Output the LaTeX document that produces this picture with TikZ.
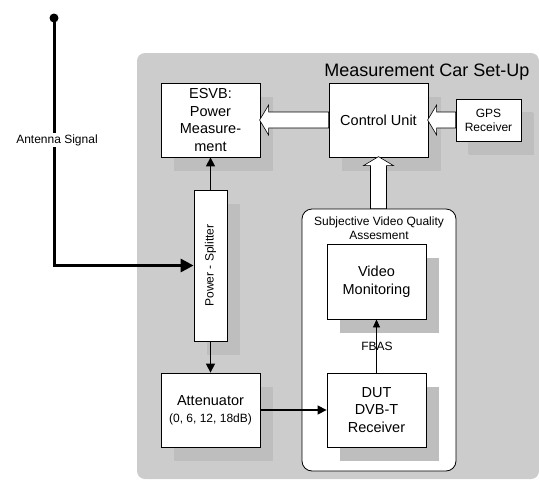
\documentclass[tikz,border=0pt]{standalone}
\usepackage{fontspec}
\setmainfont{Liberation Sans}
\usepackage{xcolor}
\usetikzlibrary{arrows.meta,shadows}

\tikzset{fatarrow/.pic={\draw[hollow] (0,8) -- (#1-9,8) -- (#1-9,15) -- (#1,0) -- (#1-9,-15) -- (#1-9,-8) -- (0,-8) -- cycle;}}

\begin{document}
\begin{tikzpicture}[x=1pt,y=-1pt,
  box/.style={draw,fill=white,line width=0.8pt,align=center,inner sep=0pt,
    font=\fontsize{14.5}{17.5}\selectfont,
    drop shadow={shadow xshift=13pt,shadow yshift=-14pt,fill=shade,opacity=1}},
  hollow/.style={draw,fill=white,line width=0.6pt},
  sig/.style={line width=1.4pt,-{Triangle[length=9pt,width=9pt]}},
  small/.style={font=\fontsize{12}{14}\selectfont}]
\definecolor{carbg}{HTML}{CCCCCC}
\definecolor{shade}{HTML}{BEBEBE}
\useasboundingbox (0,0) rectangle (539,480);
% measurement car
\fill[carbg,rounded corners=8pt] (137,53) rectangle (539,479);
\node[font=\fontsize{18}{20}\selectfont,anchor=base east] (title) at (533,76) {Measurement Car Set-Up};
\node[draw,fill=white,rounded corners=10pt,line width=0.8pt,minimum width=154pt,minimum height=262pt] (subj) at (379,340) {};
\node[small,align=center] (subjtitle) at (379,228) {Subjective Video Quality\\Assesment};
% boxes
\node[box,minimum width=99pt,minimum height=74pt] (esvb) at (210.5,120) {ESVB:\\Power\\Measure-\\ment};
\node[box,minimum width=99pt,minimum height=74pt] (ctrl) at (378.5,120) {Control Unit};
\node[box,minimum width=65pt,minimum height=42pt,font=\fontsize{12}{14}\selectfont,
  drop shadow={shadow xshift=12pt,shadow yshift=-13pt,fill=shade,opacity=1}] (gps) at (488.5,120) {GPS\\Receiver};
\node[box,minimum width=33pt,minimum height=151pt] (split) at (210.5,265.5) {};
\node[small,rotate=90] (splittext) at (split) {Power - Splitter};
\node[box,minimum width=99pt,minimum height=74pt] (atten) at (210.5,410) {Attenuator\\{\fontsize{12}{14}\selectfont (0, 6, 12, 18dB)}};
\node[box,minimum width=99pt,minimum height=75pt] (video) at (376.5,281.5) {Video\\Monitoring};
\node[box,minimum width=99pt,minimum height=74pt] (dut) at (376.5,410) {DUT\\DVB-T\\Receiver};
% hollow arrows
\pic[rotate=180] at (ctrl.west) {fatarrow=69};
\pic[rotate=180] at (gps.west) {fatarrow=28};
\pic[rotate=90] at (subj.north -| ctrl.south) {fatarrow=52};
% signal path
\coordinate (ant) at (54,18);
\fill (ant) circle (4.5);
\draw[line width=3pt,-{Triangle[length=13pt,width=13pt]}] (ant) |- (split.west);
\node[small,fill=white,inner sep=1pt] (antlabel) at (57,140) {Antenna Signal};
\draw[sig] (split.north) -- (esvb.south);
\draw[sig] (split.south) -- (atten.north);
\draw[sig] (atten.east) -- (dut.west);
\draw[line width=0.8pt,-{Triangle[length=8pt,width=7pt]}] (dut.north) -- (video.south);
\node[small] (fbas) at (377,346) {FBAS};
\end{tikzpicture}
\end{document}
